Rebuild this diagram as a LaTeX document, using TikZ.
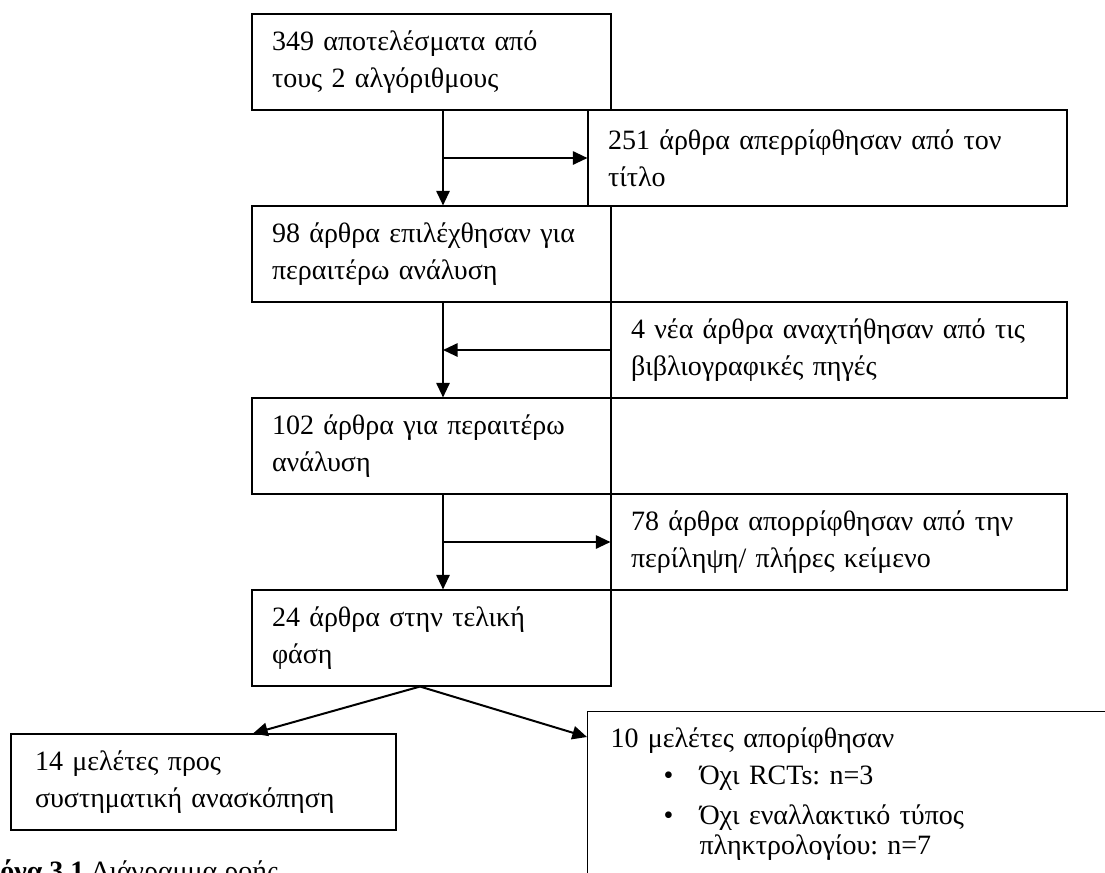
\documentclass[tikz,border=0pt]{standalone}
\usepackage{fontspec}
\setmainfont{Liberation Serif}
\usetikzlibrary{calc,arrows.meta}
\frenchspacing
\tikzstyle{box} = [draw, rectangle, line width=0.8pt, minimum height=72pt, inner ysep=0pt, align=left, font=\fontsize{21}{27.5}\selectfont]
\tikzstyle{mainbox} = [box, inner xsep=15pt, text width=239.25pt]
\tikzstyle{sidebox} = [box, inner xsep=15pt, text width=312pt]
\tikzstyle{connector} = [line width=1.5pt, -{Triangle[length=11pt,width=10pt]}]

\begin{document}
\begin{tikzpicture}[x=0.75pt, y=-0.75pt, node distance=144pt]
                \useasboundingbox (0,0) rectangle (1105,872);
                \clip (0,0) rectangle (1105,872);

                \node (res) [mainbox] at (431.5,62) {349 αποτελέσματα από\\τους 2 αλγόριθμους};
                \node (sel) [mainbox, below of=res] {98 άρθρα επιλέχθησαν για\\περαιτέρω ανάλυση};
                \node (more) [mainbox, below of=sel] {102 άρθρα για περαιτέρω\\ανάλυση};
                \node (final) [mainbox, below of=more] {24 άρθρα στην τελική\\φάση};

                \node (title) [sidebox, text width=329.25pt] at ($(res)!0.5!(sel)+(396,0)$) {251 άρθρα απερρίφθησαν από τον\\τίτλο};
                \node (refs) [sidebox] at ($(sel)!0.5!(more)+(407.5,0)$) {4 νέα άρθρα αναχτήθησαν από τις\\βιβλιογραφικές πηγές};
                \node (full) [sidebox] at ($(more)!0.5!(final)+(407.5,0)$) {78 άρθρα απορρίφθησαν από την\\περίληψη/ πλήρες κείμενο};

                \node (incl) [box, inner xsep=18pt, text width=252.75pt] at (203.5,782) {14 μελέτες προς\\συστηματική ανασκόπηση};
                \node (excl) [draw, line width=0.8pt, anchor=north west, inner xsep=17.25pt, inner ysep=12.5pt, text width=400pt, align=left, font=\fontsize{21}{27.5}\selectfont] at (587,711) {10 μελέτες απορίφθησαν\\
                        \hspace*{39.75pt}\makebox[27pt][l]{•}Όχι RCTs: n=3\\[2.5pt]
                        \hspace*{39.75pt}\makebox[27pt][l]{•}Όχι εναλλακτικό τύπος\\[-5pt]
                        \hspace*{66.75pt}πληκτρολογίου: n=7};

                \node (caption) [anchor=base west, inner sep=0pt, font=\fontsize{21}{27.5}\selectfont] at (-42,880) {\textbf{Εικόνα 3.1} Διάγραμμα ροής};

                \coordinate (spine) at ($(res.south)+(11.5,0)$);
                \coordinate (fork) at ($(final.south)+(-11.5,0)$);

                \draw [connector] (spine |- res.south) -- (spine |- sel.north);
                \draw [connector] (spine |- title.west) -- (title.west);
                \draw [connector] (spine |- sel.south) -- (spine |- more.north);
                \draw [connector] (refs.west) -- (spine |- refs.west);
                \draw [connector] (spine |- more.south) -- (spine |- final.north);
                \draw [connector] (spine |- full.west) -- (full.west);
                \draw [connector] (fork) -- ($(incl.north)+(49.5,0)$);
                \draw [connector] (fork) -- ($(excl.north west)+(0,26)$);
            \end{tikzpicture}
\end{document}
